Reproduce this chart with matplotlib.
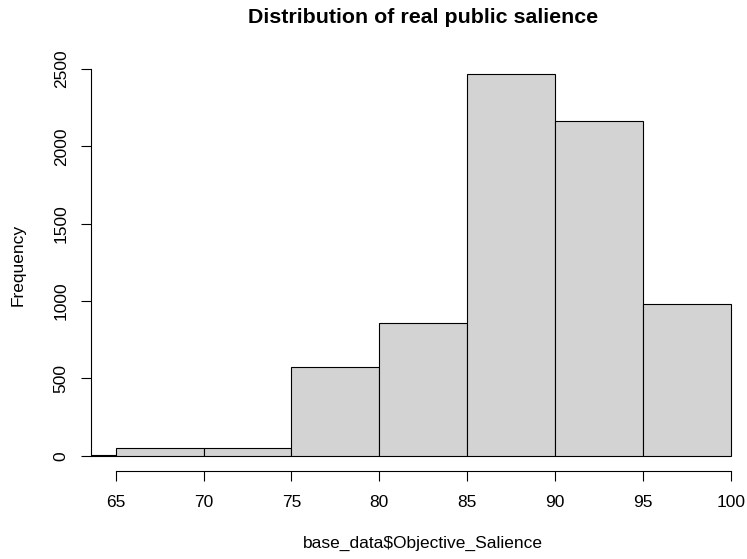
import matplotlib.pyplot as plt

plt.rcParams["font.family"] = ["Liberation Sans", "DejaVu Sans"]

# histogram bins (width 5) and their counts
bin_edges = [60, 65, 70, 75, 80, 85, 90, 95, 100]
counts = [5, 52, 52, 575, 858, 2468, 2164, 982]
x_ticks = [65, 70, 75, 80, 85, 90, 95, 100]
y_ticks = [0, 500, 1000, 1500, 2000, 2500]

fig = plt.figure(figsize=(7.47, 5.59), dpi=100)
ax = fig.add_axes([0.1218, 0.1574, 0.8897, 0.7383])

lefts = bin_edges[:-1]
widths = [b - a for a, b in zip(bin_edges[:-1], bin_edges[1:])]
ax.bar(lefts, counts, width=widths, align="edge", color="#d3d3d3",
       edgecolor="black", linewidth=0.8)

# base-R style axes: 4% padding, detached axis lines
ax.set_xlim(63.6, 101.4)
ax.set_ylim(-98.8, 2568.8)
for s in ["top", "right"]:
    ax.spines[s].set_visible(False)
ax.spines["left"].set_bounds(0, 2500)
ax.spines["bottom"].set_bounds(65, 100)
for s in ["left", "bottom"]:
    ax.spines[s].set_linewidth(0.8)

ax.set_xticks(x_ticks)
ax.set_yticks(y_ticks)
ax.set_yticklabels([str(v) for v in y_ticks], rotation=90, va="center")
ax.tick_params(axis="both", length=7, width=0.8, labelsize=12.5, colors="black")
ax.tick_params(axis="x", pad=10)
ax.tick_params(axis="y", pad=9)

ax.set_xlabel(r"base_data\$Objective_Salience", fontsize=12.5, labelpad=19)
ax.set_ylabel("Frequency", fontsize=12.5, labelpad=20)
fig.text(0.5667, 0.968, "Distribution of real public salience",
         ha="center", va="center", fontsize=15.4, fontweight="bold")

fig.savefig("out.png", dpi=100)
